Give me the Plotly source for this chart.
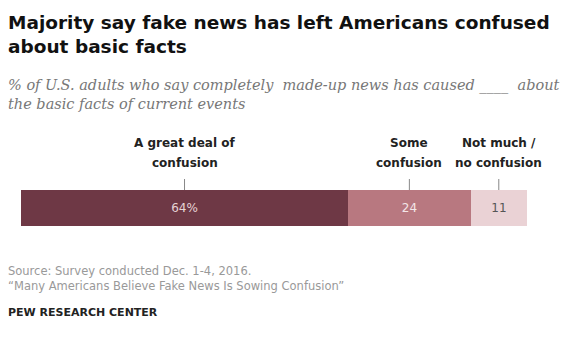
import plotly.graph_objects as go

categories = ["A great deal of<br>confusion", "Some<br>confusion", "Not much /<br>no confusion"]
values = [64, 24, 11]
value_labels = ["64%", "24", "11"]
colors = ["#6e3845", "#b87880", "#ead2d5"]
text_colors = ["#e6d3d6", "#f3e6e8", "#555555"]

title_lines = "Majority say fake news has left Americans confused<br>about basic facts"
subtitle = "% of U.S. adults who say completely  made-up news has caused ____  about<br>the basic facts of current events"
source = "Source: Survey conducted Dec. 1-4, 2016.<br>\u201cMany Americans Believe Fake News Is Sowing Confusion\u201d"
credit = "PEW RESEARCH CENTER"

W, H = 566, 339
px_per_unit = 5.11
x0_px = 21
xmin = -x0_px / px_per_unit
xmax = xmin + W / px_per_unit

fig = go.Figure()
for cat, v, lab, c, tc in zip(categories, values, value_labels, colors, text_colors):
    fig.add_trace(go.Bar(
        y=["all"], x=[v], orientation="h", marker=dict(color=c, line=dict(width=0)),
        text=[lab], textposition="inside", insidetextanchor="middle",
        textfont=dict(family="DejaVu Sans", size=12, color=tc),
        hoverinfo="skip", showlegend=False, name=cat,
    ))

bar_bottom = (H - 226) / H
bar_top = (H - 190) / H

cum = 0
for cat, v in zip(categories, values):
    center = cum + v / 2
    cum += v
    fig.add_shape(type="line", xref="x", yref="paper", x0=center, x1=center,
                  y0=bar_top, y1=(H - 179) / H, line=dict(color="#888888", width=1))
    for i, line in enumerate(cat.split("<br>")):
        fig.add_annotation(x=center, xref="x", y=(H - (143 + 20 * i)) / H, yref="paper",
                           text="<b>" + line + "</b>", showarrow=False, yanchor="middle",
                           xanchor="center", align="center",
                           font=dict(family="DejaVu Sans", size=12, color="#222222"))

fig.add_annotation(x=6 / W, y=1 - 10 / H, xref="paper", yref="paper", xanchor="left", yanchor="top",
                   text="<b>" + title_lines + "</b>", showarrow=False, align="left",
                   font=dict(family="DejaVu Sans", size=18.5, color="#111111"))
fig.add_annotation(x=6 / W, y=1 - 75 / H, xref="paper", yref="paper", xanchor="left", yanchor="top",
                   text="<i>" + subtitle + "</i>", showarrow=False, align="left",
                   font=dict(family="DejaVu Serif", size=14.5, color="#777777"))
fig.add_annotation(x=6 / W, y=1 - 262 / H, xref="paper", yref="paper", xanchor="left", yanchor="top",
                   text=source, showarrow=False, align="left",
                   font=dict(family="DejaVu Sans", size=11.5, color="#999999"))
fig.add_annotation(x=6 / W, y=1 - 304 / H, xref="paper", yref="paper", xanchor="left", yanchor="top",
                   text="<b>" + credit + "</b>", showarrow=False, align="left",
                   font=dict(family="DejaVu Sans", size=11, color="#222222"))

fig.update_layout(
    width=W, height=H, margin=dict(l=0, r=0, t=0, b=0),
    paper_bgcolor="white", plot_bgcolor="white",
    barmode="stack", bargap=0,
    xaxis=dict(range=[xmin, xmax], visible=False, fixedrange=True),
    yaxis=dict(domain=[bar_bottom, bar_top], visible=False, fixedrange=True),
)

fig.write_html("out.html")
